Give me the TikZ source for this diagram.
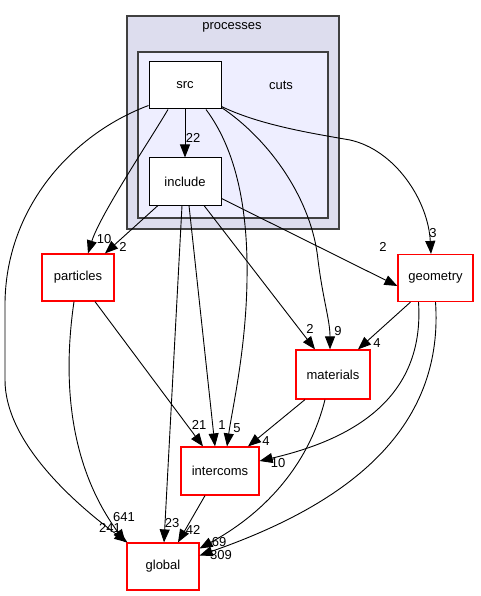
\documentclass[tikz,border=0pt]{standalone}
\usepackage{fontspec}
\setmainfont{Liberation Sans}
\usetikzlibrary{arrows.meta}
\definecolor{procfill}{HTML}{DDDDEE}
\definecolor{cutsfill}{HTML}{EEEEFF}
\definecolor{clusterline}{HTML}{404040}
\begin{document}
\begin{tikzpicture}[x=1pt,y=-1pt,
  every node/.style={font=\fontsize{13}{15}\selectfont, inner sep=0pt},
  cluster/.style={draw=clusterline, line width=1.6pt},
  dirbox/.style={draw=black, fill=white, line width=1pt, minimum width=72pt, minimum height=47pt},
  redbox/.style={draw=red, fill=white, line width=1.2pt, minimum height=47pt},
  edge/.style={draw=black, line width=0.9pt, -{Triangle[length=13pt,width=10pt]}},
  elabel/.style={font=\fontsize{13}{15}\selectfont}
]
\useasboundingbox (0,0) rectangle (480,596);
% clusters
\draw[cluster, fill=procfill] (127,16) rectangle (339,229);
\node (proclabel) at (232,27) {processes};
\draw[cluster, fill=cutsfill] (138,52) rectangle (328,218);
\node (cutslabel) at (281,85) {cuts};
% nodes
\node[dirbox] (src) at (185,85.5) {src};
\node[dirbox] (include) at (185,181.5) {include};
\node[redbox, minimum width=72pt] (particles) at (78,277.5) {particles};
\node[redbox, minimum width=75pt] (geometry) at (435.5,278) {geometry};
\node[redbox, minimum width=74pt, minimum height=49pt] (materials) at (333,374.5) {materials};
\node[redbox, minimum width=78pt, minimum height=48pt] (intercoms) at (220,471) {intercoms};
\node[redbox, minimum width=72pt] (global) at (163,566.5) {global};

% src edges
\draw[edge] (src.south) -- (include.north);
\draw[edge] ([xshift=-17pt]src.south) .. controls (150,140) and (100,215) .. ([xshift=10pt]particles.north);
\draw[edge] ([yshift=4pt]src.south west) .. controls (70,135) and (5,210) .. (5,305) -- (5,380) .. controls (5,440) and (70,500) .. ([xshift=1pt]global.north west);
\draw[edge] ([xshift=21pt]src.south) .. controls (240,155) and (248,220) .. (247,280) .. controls (246,350) and (232,410) .. ([xshift=7pt]intercoms.north);
\draw[edge] ([yshift=2pt]src.south east) .. controls (270,140) and (312,200) .. (318,260) .. controls (323,300) and (330,320) .. ([xshift=-3pt]materials.north);
\draw[edge] ([yshift=3pt]src.south east) .. controls (260,125) and (310,133) .. (350,140) .. controls (395,150) and (428,200) .. ([xshift=-4.5pt]geometry.north);

% include edges
\draw[edge] ([xshift=-27pt]include.south) -- ([xshift=27pt]particles.north);
\draw[edge] ([yshift=7pt]include.south east) -- ([yshift=-8pt]geometry.west);
\draw[edge] ([xshift=19pt]include.south) -- ([xshift=-18pt]materials.north);
\draw[edge] ([xshift=4pt]include.south) -- ([xshift=-5pt]intercoms.north);
\draw[edge] ([xshift=-3pt]include.south) -- ([xshift=1pt]global.north);

% particles edges
\draw[edge] ([xshift=17pt]particles.south) -- ([xshift=-17pt]intercoms.north);
\draw[edge] ([xshift=-4pt]particles.south) .. controls (64,370) and (65,460) .. ([xshift=-1pt]global.north west);

% geometry edges
\draw[edge] ([xshift=-25pt]geometry.south) -- ([xshift=25pt]materials.north);
\draw[edge] ([xshift=-17pt]geometry.south) .. controls (425,400) and (350,440) .. ([yshift=10pt]intercoms.east);
\draw[edge] ([xshift=0pt]geometry.south) .. controls (445,440) and (330,510) .. ([yshift=11pt]global.east);

% materials edges
\draw[edge] ([xshift=-28pt]materials.south) -- ([xshift=28pt]intercoms.north);
\draw[edge] ([xshift=-8pt]materials.south) .. controls (310,460) and (270,510) .. ([yshift=18pt]global.east);

% intercoms edge
\draw[edge] ([xshift=-15pt]intercoms.south) -- ([xshift=15pt]global.north);

% edge labels
\node[elabel] (l22) at (193,138) {22};
\node[elabel] (l10a) at (104,239) {10};
\node[elabel] (l2a) at (123,247) {2};
\node[elabel] (l2b) at (383,247) {2};
\node[elabel] (l3) at (433,233) {3};
\node[elabel] (l2c) at (310,329) {2};
\node[elabel] (l9) at (338,331) {9};
\node[elabel] (l4a) at (377,343) {4};
\node[elabel] (l4b) at (266,441) {4};
\node[elabel] (l10b) at (278,463) {10};
\node[elabel] (l21) at (199,425) {21};
\node[elabel] (l1) at (222,425) {1};
\node[elabel] (l5) at (237,428) {5};
\node[elabel] (l23) at (172,523) {23};
\node[elabel] (l42) at (193,530) {42};
\node[elabel] (l69) at (219,542) {69};
\node[elabel] (l309) at (221,555) {309};
\node[elabel] (l641) at (124,517) {641};
\node[elabel] (l241) at (110,528) {241};
\end{tikzpicture}
\end{document}
